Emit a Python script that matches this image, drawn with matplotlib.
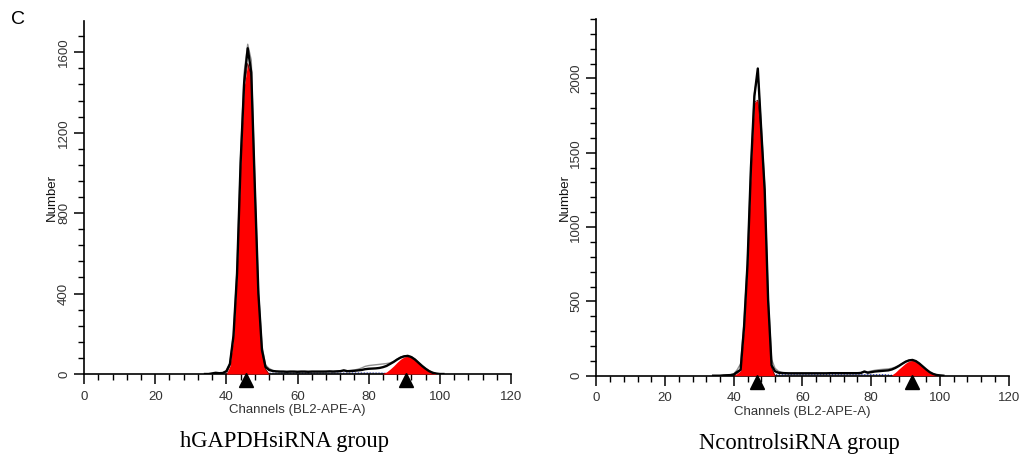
import numpy as np
import matplotlib.pyplot as plt
from matplotlib.ticker import MultipleLocator

# Каналы (общая сетка для обоих гистограмм)
channels = list(range(34, 102))

# hGAPDHsiRNA: измеренная гистограмма
counts_gapdh = [0, 0, 3, 6, 4, 5, 14, 50, 190, 500, 1050, 1450, 1620, 1500, 930, 400,
                120, 35, 20, 15, 13, 12, 12, 11, 12, 12, 11, 12, 12, 11, 12, 12,
                12, 12, 12, 13, 12, 13, 14, 18, 14, 15, 16, 18, 20, 24, 26, 27,
                28, 30, 34, 40, 50, 60, 72, 82, 88, 90, 84, 72, 56, 40, 26, 14,
                6, 2, 0, 0]
# вторая (серая) кривая
gray_gapdh = [0, 0, 2, 5, 4, 6, 15, 55, 200, 520, 1080, 1500, 1640, 1560, 950, 420,
              140, 45, 28, 18, 14, 13, 12, 12, 12, 12, 12, 12, 12, 12, 12, 12,
              12, 12, 13, 13, 13, 14, 15, 18, 16, 17, 20, 24, 30, 38, 42, 44,
              46, 48, 50, 52, 55, 62, 74, 84, 90, 92, 86, 74, 58, 42, 28, 16,
              8, 3, 0, 0]
# модель G1 / G2 (красная заливка)
g1_ch = [40, 41, 42, 43, 44, 45, 46, 47, 48, 49, 50, 51, 52]
g1_gapdh = [0, 40, 180, 490, 1040, 1430, 1545, 1480, 915, 390, 110, 25, 0]
g2_ch = [84, 85, 86, 87, 88, 89, 90, 91, 92, 93, 94, 95, 96, 97, 98, 99]
g2_gapdh = [3, 10, 24, 40, 58, 74, 85, 88, 82, 70, 54, 38, 24, 12, 5, 0]
s_ch = [48, 52, 56, 60, 64, 68, 72, 76, 80, 84, 88]
s_gapdh = [0, 8, 9, 9, 9, 9, 9, 10, 10, 9, 0]
peaks_gapdh = [45.5, 90.5]

# NcontrolsiRNA
counts_nc = [0, 0, 0, 2, 3, 4, 8, 25, 40, 330, 750, 1400, 1880, 2067, 1650, 1250,
             509, 70, 30, 20, 18, 17, 16, 16, 16, 16, 16, 16, 16, 16, 16, 16,
             16, 16, 17, 17, 17, 17, 17, 17, 17, 17, 17, 18, 28, 20, 24, 28,
             30, 32, 34, 36, 42, 52, 65, 80, 94, 103, 106, 98, 82, 62, 42, 24,
             12, 5, 2, 0]
gray_nc = [0, 0, 0, 2, 4, 6, 12, 40, 80, 360, 780, 1420, 1900, 2040, 1680, 1280,
           540, 110, 50, 30, 22, 18, 17, 17, 17, 17, 17, 17, 17, 17, 17, 17,
           17, 17, 18, 18, 18, 18, 18, 18, 18, 18, 19, 22, 30, 26, 32, 36,
           40, 42, 44, 46, 50, 58, 68, 82, 96, 104, 106, 98, 82, 62, 42, 24,
           12, 5, 2, 0]
g1_nc = [0, 15, 35, 320, 740, 1380, 1840, 1854, 1630, 1230, 490, 55, 0]
g2_ch_nc = [86, 87, 88, 89, 90, 91, 92, 93, 94, 95, 96, 97, 98, 99]
g2_nc = [5, 22, 44, 64, 84, 98, 103, 96, 80, 60, 40, 22, 10, 0]
s_nc = [0, 12, 13, 13, 13, 13, 13, 14, 14, 13, 0]
peaks_nc = [46.9, 92.0]

group_names = ['hGAPDHsiRNA group', 'NcontrolsiRNA group']

plt.rcParams['font.family'] = ['Liberation Sans', 'DejaVu Sans']

fig = plt.figure(figsize=(10.2, 4.58), dpi=100)
ax1 = fig.add_axes([0.0824, 0.1834, 0.4186, 0.7714])
ax2 = fig.add_axes([0.5846, 0.1797, 0.4043, 0.7788])


def draw_hist(ax, counts, gray, g1, g2x, g2, s, peaks, ymax, ymajor, yminor):
    # S-фаза
    ax.fill_between(s_ch, 0, s, color='#c8c8c8', lw=0, zorder=1)
    ax.plot(s_ch, [v * 0.5 for v in s], color='#2030c0', lw=0.8, ls=':', zorder=2)
    # G1 и G2
    ax.fill_between(g1_ch, 0, g1, color='#ff0000', lw=0, zorder=3)
    ax.fill_between(g2x, 0, g2, color='#ff0000', lw=0, zorder=3)
    ax.plot(g1_ch, g1, color='#600000', lw=0.5, zorder=3)
    # кривые
    ax.plot(channels, gray, color='#909090', lw=1.0, zorder=4)
    ax.plot(channels, counts, color='black', lw=1.7, zorder=5)
    # треугольники под осью
    ax.plot(peaks, [-0.018] * len(peaks), marker='^', ls='none', color='black',
            ms=9.5, clip_on=False, transform=ax.get_xaxis_transform(), zorder=6)

    ax.set_xlim(0, 120)
    ax.set_ylim(0, ymax)
    ax.xaxis.set_major_locator(MultipleLocator(20))
    ax.xaxis.set_minor_locator(MultipleLocator(4))
    ax.yaxis.set_major_locator(MultipleLocator(ymajor))
    ax.yaxis.set_minor_locator(MultipleLocator(yminor))
    for side in ['top', 'right']:
        ax.spines[side].set_visible(False)
    for side in ['left', 'bottom']:
        ax.spines[side].set_linewidth(1.2)
    ax.tick_params(which='major', length=7, width=1.1, labelsize=9.5, colors='black',
                   labelcolor='#333333', pad=3)
    ax.tick_params(axis='x', which='major', pad=5)
    ax.tick_params(which='minor', length=4, width=1.0)
    for lab in ax.get_yticklabels():
        lab.set_rotation(90)
        lab.set_va('center')
    ax.set_xlabel('Channels (BL2-APE-A)', fontsize=9.5, labelpad=1, color='#333333')
    ax.set_ylabel('Number', fontsize=9.5, labelpad=0, color='#111111')


draw_hist(ax1, counts_gapdh, gray_gapdh, g1_gapdh, g2_ch, g2_gapdh, s_gapdh,
          peaks_gapdh, 1757, 400, 80)
draw_hist(ax2, counts_nc, gray_nc, g1_nc, g2_ch_nc, g2_nc, s_nc,
          peaks_nc, 2400, 500, 100)

# подписи групп
fig.text(284 / 1020, 1 - 441 / 458, group_names[0], ha='center', va='center',
         fontsize=16.3, family='Liberation Serif')
fig.text(799 / 1020, 1 - 443 / 458, group_names[1], ha='center', va='center',
         fontsize=16.3, family='Liberation Serif')
fig.text(18 / 1020, 1 - 20 / 458, 'C', ha='center', va='center', fontsize=14)

fig.savefig('out.png', dpi=100)
